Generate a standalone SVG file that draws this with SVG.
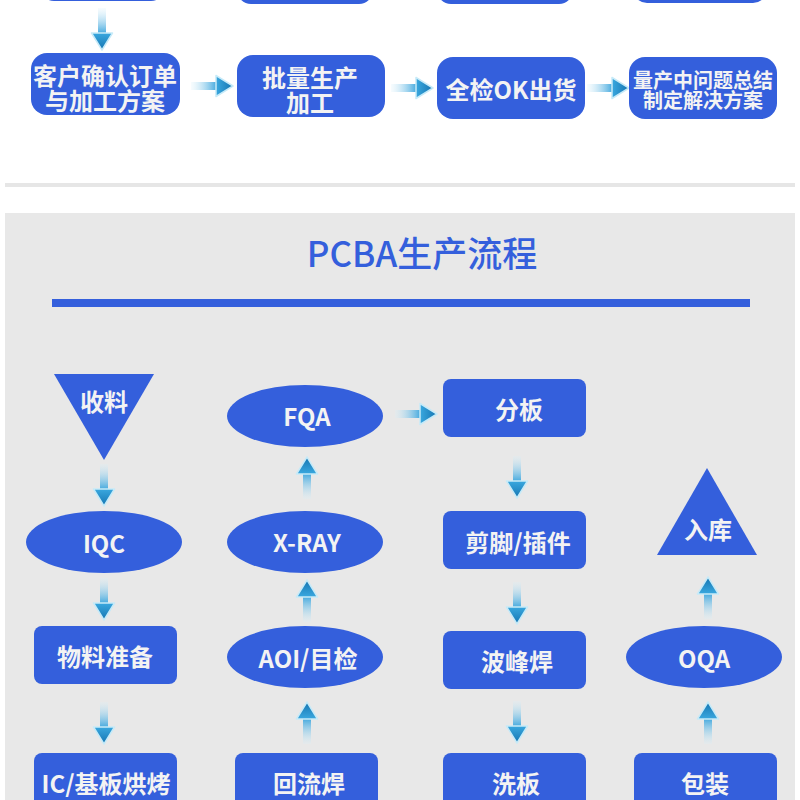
<svg xmlns="http://www.w3.org/2000/svg" xmlns:xlink="http://www.w3.org/1999/xlink" width="800" height="800" viewBox="0 0 800 800">
<style>
.box{fill:#345fdc}
.lbl{font-family:"Noto Sans CJK SC","Noto Sans",sans-serif;font-weight:bold;fill:#f3f3f3;text-anchor:middle;dominant-baseline:central}
.t24{font-size:24px}
.t22{font-size:24px}
.t20{font-size:20px}
.title{font-family:"Noto Sans CJK SC","Noto Sans",sans-serif;font-size:35px;font-weight:500;fill:#345fdc;text-anchor:middle}
</style>
<defs>
<linearGradient id="shaftG" x1="0" y1="0" x2="0" y2="1">
<stop offset="0" stop-color="#d8f0fa" stop-opacity="0.2"/>
<stop offset="1" stop-color="#3ea6dd"/>
</linearGradient>
<linearGradient id="headG" x1="0" y1="0" x2="0" y2="1">
<stop offset="0" stop-color="#3aa8df"/>
<stop offset="1" stop-color="#1575b2"/>
</linearGradient>
<g id="arr">
<rect x="-4" y="0" width="8" height="26" fill="url(#shaftG)"/>
<polygon points="-10.5,25 10.5,25 0,42" fill="url(#headG)" stroke="#c6eaf8" stroke-width="1.5" stroke-linejoin="round"/>
</g>
</defs>
<rect width="800" height="800" fill="#ffffff"/>
<rect x="5" y="183" width="790" height="4" fill="#e6e6e6"/>
<rect x="5" y="213" width="790" height="587" fill="#e8e8e8"/>
<text class="title" x="422" y="267">PCBA生产流程</text>
<rect x="52" y="299" width="698" height="8" fill="#345fdc"/>

<g id="connectors">
<use xlink:href="#arr" transform="translate(102,8)"/>
<use xlink:href="#arr" transform="translate(191,86) rotate(-90)"/>
<use xlink:href="#arr" transform="translate(391,88) rotate(-90)"/>
<use xlink:href="#arr" transform="translate(587,88) rotate(-90)"/>
<use xlink:href="#arr" transform="translate(104,464)"/>
<use xlink:href="#arr" transform="translate(104,578)"/>
<use xlink:href="#arr" transform="translate(104,702)"/>
<use xlink:href="#arr" transform="translate(307,744) rotate(180)"/>
<use xlink:href="#arr" transform="translate(307,622) rotate(180)"/>
<use xlink:href="#arr" transform="translate(307,499) rotate(180)"/>
<use xlink:href="#arr" transform="translate(395,414) rotate(-90)"/>
<use xlink:href="#arr" transform="translate(517,456)"/>
<use xlink:href="#arr" transform="translate(517,582)"/>
<use xlink:href="#arr" transform="translate(517,701)"/>
<use xlink:href="#arr" transform="translate(708,744) rotate(180)"/>
<use xlink:href="#arr" transform="translate(708,619) rotate(180)"/>
</g>

<g id="top1"><rect class="box" x="40" y="-40" width="125" height="41" rx="14"/></g>
<g id="top2"><rect class="box" x="237" y="-40" width="136" height="44" rx="14"/></g>
<g id="top3"><rect class="box" x="437" y="-40" width="136" height="44" rx="14"/></g>
<g id="top4"><rect class="box" x="633" y="-40" width="134" height="43" rx="14"/></g>

<g id="confirm"><rect class="box" x="31" y="53" width="149" height="62" rx="16"/>
<text class="lbl t24"><tspan x="105" y="74">客户确认订单</tspan><tspan x="105" y="99">与加工方案</tspan></text></g>
<g id="mass"><rect class="box" x="237" y="55" width="148" height="62" rx="16"/>
<text class="lbl t24"><tspan x="310" y="76">批量生产</tspan><tspan x="310" y="101">加工</tspan></text></g>
<g id="ship"><rect class="box" x="437" y="57" width="148" height="62" rx="16"/>
<text class="lbl t24" x="511" y="88">全检OK出货</text></g>
<g id="summary"><rect class="box" x="629" y="57" width="148" height="62" rx="16"/>
<text class="lbl t20"><tspan x="703" y="79">量产中问题总结</tspan><tspan x="703" y="99">制定解决方案</tspan></text></g>

<g id="receive"><polygon class="box" points="54,374 154,374 104,460"/>
<text class="lbl t22" x="104" y="400">收料</text></g>
<g id="iqc"><ellipse class="box" cx="104" cy="542" rx="78" ry="31"/>
<text class="lbl t22" x="104" y="542">IQC</text></g>
<g id="prep"><rect class="box" x="34" y="626" width="143" height="58" rx="8"/>
<text class="lbl t22" x="105" y="655">物料准备</text></g>
<g id="bake"><rect class="box" x="34" y="753" width="143" height="58" rx="8"/>
<text class="lbl t22" x="106" y="782">IC/基板烘烤</text></g>

<g id="fqa"><ellipse class="box" cx="305" cy="416" rx="78" ry="31"/>
<text class="lbl t22" x="307" y="415">FQA</text></g>
<g id="xray"><ellipse class="box" cx="305" cy="542" rx="78" ry="31"/>
<text class="lbl t22" x="307" y="541">X-RAY</text></g>
<g id="aoi"><ellipse class="box" cx="305" cy="657" rx="78" ry="31"/>
<text class="lbl t22" x="308" y="657">AOI/目检</text></g>
<g id="reflow"><rect class="box" x="235" y="753" width="143" height="58" rx="8"/>
<text class="lbl t22" x="309" y="782">回流焊</text></g>

<g id="split"><rect class="box" x="443" y="379" width="143" height="58" rx="8"/>
<text class="lbl t22" x="519" y="408">分板</text></g>
<g id="insert"><rect class="box" x="443" y="511" width="143" height="58" rx="8"/>
<text class="lbl t22" x="518" y="541">剪脚/插件</text></g>
<g id="wave"><rect class="box" x="443" y="631" width="143" height="58" rx="8"/>
<text class="lbl t22" x="517" y="660">波峰焊</text></g>
<g id="wash"><rect class="box" x="443" y="753" width="143" height="58" rx="8"/>
<text class="lbl t22" x="516" y="782">洗板</text></g>

<g id="store"><polygon class="box" points="707,468 757,555 657,555"/>
<text class="lbl t22" x="708" y="528">入库</text></g>
<g id="oqa"><ellipse class="box" cx="704" cy="657" rx="78" ry="31"/>
<text class="lbl t22" x="704" y="657">OQA</text></g>
<g id="pack"><rect class="box" x="634" y="753" width="143" height="58" rx="8"/>
<text class="lbl t22" x="705" y="782">包装</text></g>
</svg>
